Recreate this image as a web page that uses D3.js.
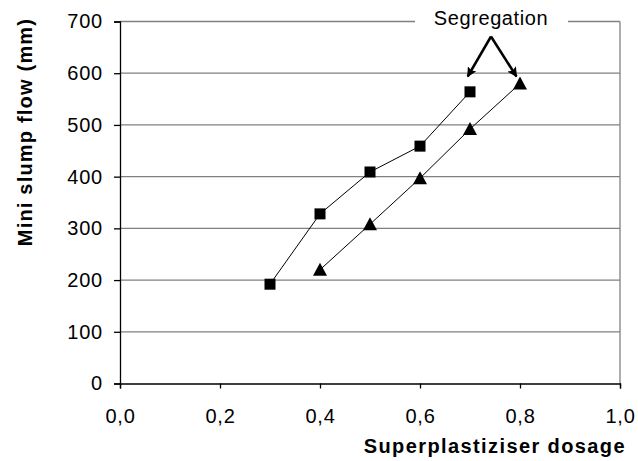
<!DOCTYPE html>
<html><head><meta charset="utf-8">
<script src="https://cdn.jsdelivr.net/npm/d3@7"></script>
<style>body{margin:0;background:#fff}svg{display:block;font-family:Arial,"Liberation Sans",sans-serif}</style>
</head><body>
<svg id="c" width="638" height="461"></svg>
<script>
const xTicks = [0, 0.2, 0.4, 0.6, 0.8, 1.0];
const yTicks = [0, 100, 200, 300, 400, 500, 600, 700];
const squareX = [0.3, 0.4, 0.5, 0.6, 0.7];
const squareY = [192, 328, 409, 459, 564];
const triangleX = [0.4, 0.5, 0.6, 0.7, 0.8];
const triangleY = [220, 308, 397, 492, 580];
const annotation = "Segregation";

const FONT = 'Arial,"Liberation Sans",sans-serif';
const svg = d3.select("#c");
const L = 120, R = 620, T = 21.5, B = 383.5;
const x = d3.scaleLinear().domain([0, 1]).range([L, R]);
const y = d3.scaleLinear().domain([0, 700]).range([B, T]);

// gridlines
svg.append("g").selectAll("line").data(yTicks.filter(d => d > 0 && d < 700)).join("line")
  .attr("x1", L).attr("x2", R).attr("y1", d => y(d)).attr("y2", d => y(d))
  .attr("stroke", "#808080").attr("stroke-width", 1.3);
// top border with gap for text
svg.append("line").attr("x1", L).attr("x2", 415).attr("y1", y(700)).attr("y2", y(700)).attr("stroke", "#808080").attr("stroke-width", 1.3);
svg.append("line").attr("x1", 568).attr("x2", R).attr("y1", y(700)).attr("y2", y(700)).attr("stroke", "#808080").attr("stroke-width", 1.3);
// right border
svg.append("line").attr("x1", R).attr("x2", R).attr("y1", y(700)).attr("y2", B).attr("stroke", "#808080").attr("stroke-width", 1.3);

// axes
const xAxis = d3.axisBottom(x).tickValues(xTicks).tickSize(5).tickPadding(20)
  .tickFormat(d => d3.format(".1f")(d).replace(".", ","));
const gx = svg.append("g").attr("transform", `translate(0,${B})`).call(xAxis);
gx.select(".domain").attr("stroke", "#000").attr("stroke-width", 1.3);
gx.selectAll(".tick line").attr("stroke", "#000").attr("stroke-width", 1.3);
gx.selectAll(".tick text").attr("font-size", 20).attr("fill", "#000").attr("font-family", FONT)
  .attr("letter-spacing", 0.8);

const yAxis = d3.axisLeft(y).tickValues(yTicks).tickSize(6).tickPadding(11).tickFormat(d3.format("d"));
const gy = svg.append("g").attr("transform", `translate(${L},0)`).call(yAxis);
gy.select(".domain").attr("stroke", "#000").attr("stroke-width", 1.3);
gy.selectAll(".tick line").attr("stroke", "#000").attr("stroke-width", 1.3);
gy.selectAll(".tick text").attr("font-size", 20).attr("fill", "#000").attr("font-family", FONT)
  .attr("letter-spacing", 0.8);

// series lines
const sq = squareX.map((d, i) => [d, squareY[i]]);
const tr = triangleX.map((d, i) => [d, triangleY[i]]);
const line = d3.line().x(d => x(d[0])).y(d => y(d[1]));
svg.append("path").attr("d", line(sq)).attr("fill", "none").attr("stroke", "#000").attr("stroke-width", 1);
svg.append("path").attr("d", line(tr)).attr("fill", "none").attr("stroke", "#000").attr("stroke-width", 1);

// markers
svg.append("g").selectAll("rect").data(sq).join("rect")
  .attr("x", d => x(d[0]) - 5.5).attr("y", d => y(d[1]) - 5.5)
  .attr("width", 11).attr("height", 11).attr("fill", "#000");
svg.append("g").selectAll("path").data(tr).join("path")
  .attr("d", d => { const cx = x(d[0]), cy = y(d[1]); return `M${cx},${cy-7}L${cx+7},${cy+6}L${cx-7},${cy+6}Z`; })
  .attr("fill", "#000");

// annotation
svg.append("text").attr("x", 491).attr("y", 25).attr("text-anchor", "middle")
  .attr("font-size", 20).attr("letter-spacing", 0.6).attr("fill", "#000").text(annotation);
const defs = svg.append("defs");
defs.append("marker").attr("id", "ah").attr("viewBox", "0 0 10 10").attr("refX", 9).attr("refY", 5)
  .attr("markerWidth", 4).attr("markerHeight", 4).attr("markerUnits", "strokeWidth").attr("orient", "auto")
  .append("path").attr("d", "M0,0L10,5L0,10L2,5Z").attr("fill", "#000");
const apex = [491, 36.5];
[[x(0.7) - 2.3, 76.5], [x(0.8) - 3.5, 76.5]].forEach(t => {
  svg.append("line").attr("x1", apex[0]).attr("y1", apex[1]).attr("x2", t[0]).attr("y2", t[1])
    .attr("stroke", "#000").attr("stroke-width", 2.5).attr("marker-end", "url(#ah)");
});

// titles
svg.append("text").attr("x", 626).attr("y", 452.5).attr("text-anchor", "end")
  .attr("font-size", 20).attr("font-weight", "bold").attr("letter-spacing", 1.4).text("Superplastiziser dosage");
svg.append("text").attr("transform", "translate(31.5,132) rotate(-90)").attr("text-anchor", "middle")
  .attr("font-size", 20).attr("font-weight", "bold").attr("letter-spacing", 1.2).text("Mini slump flow (mm)");
</script>
</body></html>
